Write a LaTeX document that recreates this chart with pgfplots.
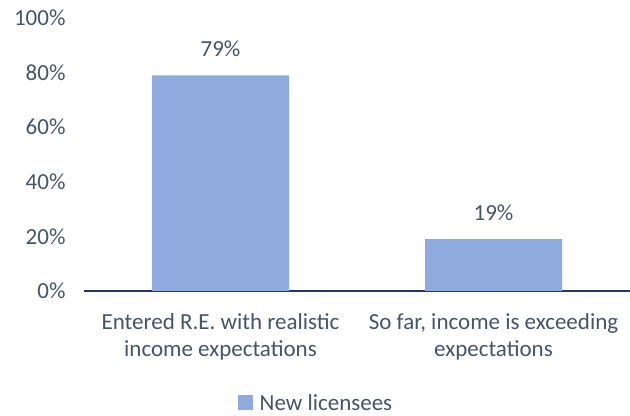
\documentclass[border=0pt]{standalone}
\usepackage{fontspec}
\setmainfont{Carlito}
\usepackage{pgfplots}
\pgfplotsset{compat=1.18}
\definecolor{barblue}{HTML}{8FAADC}
\definecolor{txt}{HTML}{44546A}
\definecolor{navy}{HTML}{203864}
\newcommand{\lbl}{\fontsize{23bp}{27bp}\selectfont}
\begin{document}
\begin{tikzpicture}
\useasboundingbox (0,0) rectangle (630bp,416bp);
\begin{axis}[
  at={(84bp,125bp)}, anchor=south west,
  scale only axis, width=546bp, height=273bp,
  xmin=-0.5, xmax=1.5, ymin=0, ymax=100,
  axis lines*=left,
  y axis line style={draw=none},
  x axis line style={draw=navy, line width=1.6bp},
  tick style={draw=none},
  ytick={0,20,40,60,80,100},
  yticklabel={\pgfmathprintnumber{\tick}\%},
  yticklabel style={text=txt, font=\lbl},
  every y tick label/.append style={xshift=-15bp},
  xtick={0,1},
  xticklabels={{Entered R.E. with realistic\\income expectations}, {So far, income is exceeding\\expectations}},
  xticklabel style={text=txt, align=center, font=\lbl, yshift=-15bp},
  /pgf/number format/assume math mode=true,
  ybar, bar width=137bp,
  nodes near coords={\pgfmathprintnumber{\pgfplotspointmeta}\%},
  every node near coord/.append style={text=txt, font=\lbl, yshift=15bp},
  legend style={at={(0.423,-0.41)}, anchor=center, draw=none, text=txt, font=\lbl},
  legend image code/.code={\fill[barblue] (0bp,-7.5bp) rectangle (15bp,7.5bp); \path (-2bp,0) -- (20bp,0);},
]
\addplot[fill=barblue, draw=none] coordinates {(0,79) (1,19)};
\addlegendentry{New licensees}
\end{axis}
\end{tikzpicture}
\end{document}
